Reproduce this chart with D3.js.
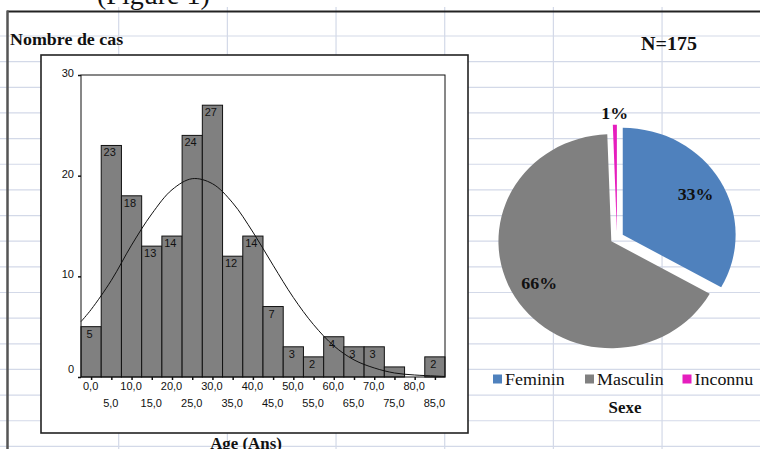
<!DOCTYPE html>
<html><head><meta charset="utf-8">
<script src="https://cdn.jsdelivr.net/npm/d3@7"></script>
<style>body{margin:0;background:#fff;overflow:hidden} svg{display:block}</style>
</head><body>
<svg id="c" width="760" height="449"></svg>
<script>
// ---------- data ----------
const ageMidpoints = [0,5,10,15,20,25,30,35,40,45,50,55,60,65,70,75,80,85];
const ageCounts    = [5,23,18,13,14,24,27,12,14,7,3,2,4,3,3,1,0,2];
const yTickValues  = [0,10,20,30];
const normalX = [-2.5,0,5,10,15,20,25,30,35,40,45,50,55,60,65,70,75,80,85,87.5];
const normalY = [5.5,6.7,9.6,13.1,16.2,18.6,19.7,19.2,17.3,14.4,11.1,7.9,5.2,3.1,1.7,0.9,0.4,0.2,0.1,0.05];
const sexLabels  = ["Feminin","Masculin","Inconnu"];
const sexCounts  = [58,116,1];
const sexPercent = ["33%","66%","1%"];
const sexColors  = ["#4F81BD","#808080","#E61EBE"];

const svg = d3.select("#c");
const serif = "'Liberation Serif','Times New Roman',serif";
const sans = "'Liberation Sans',Arial,sans-serif";
const SX = 1.055;

function stext(g, x, y, str, size, weight, anchor) {
  return g.append("text")
    .attr("transform", `translate(${x},${y}) scale(${SX},1)`)
    .attr("font-family", serif).attr("font-size", size)
    .attr("font-weight", weight).attr("text-anchor", anchor || "start")
    .attr("fill", "#111").text(str);
}

// ---------- spreadsheet background ----------
const grid = svg.append("g").attr("stroke", "#d3d9e8").attr("stroke-width", 1.2);
d3.range(36, 449, 25.65).forEach(yy => grid.append("line").attr("x1", 0).attr("x2", 760).attr("y1", yy).attr("y2", yy));
d3.range(118.7, 760, 108.67).forEach(xx => grid.append("line").attr("x1", xx).attr("x2", xx).attr("y1", 7).attr("y2", 449));

// document text partially visible at top
svg.append("text").attr("x", 97).attr("y", 4).attr("font-family", serif).attr("font-size", 28)
  .attr("fill", "#111").text("(Figure 1)");

// outer frame
svg.append("line").attr("x1", 7).attr("x2", 760).attr("y1", 11.5).attr("y2", 11.5).attr("stroke", "#222").attr("stroke-width", 2.2);
svg.append("line").attr("x1", 7.5).attr("x2", 7.5).attr("y1", 10.5).attr("y2", 449).attr("stroke", "#555").attr("stroke-width", 2.5);

stext(svg, 10, 45, "Nombre de cas", 17, "bold");

// ---------- histogram ----------
svg.append("rect").attr("x", 41).attr("y", 55).attr("width", 427).attr("height", 378)
  .attr("fill", "#fff").attr("stroke", "#222").attr("stroke-width", 1.6);

const x = d3.scaleLinear().domain([-2.5, 87.5]).range([81, 445]);
const y = d3.scaleLinear().domain([0, 30]).range([377, 75]);
const bw = x(5) - x(0);
const bins = ageMidpoints.map((m, i) => ({ mid: m, count: ageCounts[i] }));

const hist = svg.append("g");
hist.selectAll("rect.bar").data(bins).join("rect")
  .attr("class", "bar")
  .attr("x", d => x(d.mid - 2.5))
  .attr("y", d => y(d.count))
  .attr("width", bw)
  .attr("height", d => y(0) - y(d.count))
  .attr("fill", "#808080").attr("stroke", "#111").attr("stroke-width", 1);

hist.selectAll("text.lbl").data(bins.filter(d => d.count >= 2)).join("text")
  .attr("class", "lbl")
  .attr("x", d => x(d.mid - 2.5) + 8.5)
  .attr("y", d => y(d.count) + 11)
  .attr("text-anchor", "middle")
  .attr("font-family", sans).attr("font-size", 11).attr("fill", "#111")
  .text(d => d.count);

// normal curve
const line = d3.line().x(d => x(d[0])).y(d => y(d[1])).curve(d3.curveCatmullRom);
hist.append("path").datum(normalX.map((v, i) => [v, normalY[i]]))
  .attr("d", line).attr("fill", "none").attr("stroke", "#111").attr("stroke-width", 1);

// plot frame
hist.append("rect").attr("x", 81).attr("y", 75).attr("width", 364).attr("height", 302)
  .attr("fill", "none").attr("stroke", "#111").attr("stroke-width", 1);

// y axis
const yAxis = hist.append("g").attr("transform", "translate(81,0)")
  .call(d3.axisLeft(y).tickValues(yTickValues).tickSize(3).tickPadding(4));
yAxis.select(".domain").remove();
yAxis.selectAll("text").attr("font-family", sans).attr("font-size", 11).attr("fill", "#111")
  .attr("dy", d => d === 0 ? "-0.4em" : "0.15em");
yAxis.selectAll("line").attr("stroke", "#111").attr("stroke-width", 1.5);

// x axis
const xAxis = hist.append("g").attr("transform", "translate(0,377)")
  .call(d3.axisBottom(x).tickValues(ageMidpoints).tickSize(3).tickPadding(2)
    .tickFormat(d => d.toFixed(1).replace(".", ",")));
xAxis.select(".domain").remove();
xAxis.selectAll("line").attr("stroke", "#111").attr("stroke-width", 1.5);
xAxis.selectAll("text").attr("font-family", sans).attr("font-size", 11).attr("fill", "#111")
  .attr("x", -1)
  .attr("y", (d, i) => i % 2 === 0 ? 5 : 22);

stext(svg, 246, 448.5, "Age (Ans)", 16, "bold", "middle");

// ---------- pie ----------
stext(svg, 669, 49.5, "N=175", 19, "bold", "middle");

const C = [617, 238], R = 107, explode = 6.3;
const pie = d3.pie().sort(null).startAngle(0).endAngle(2 * Math.PI)(sexCounts);
const arc = d3.arc().innerRadius(0).outerRadius(R);
const pg = svg.append("g").attr("transform", `translate(${C[0]},${C[1]})`);
const slices = pg.append("g").attr("transform", `scale(${SX},1)`);
slices.selectAll("path").data(pie).join("path")
  .attr("d", arc)
  .attr("fill", (d, i) => sexColors[i])
  .attr("transform", d => {
    const a = (d.startAngle + d.endAngle) / 2;
    return `translate(${explode * Math.sin(a)},${-explode * Math.cos(a)})`;
  });

pie.forEach((d, i) => {
  const a = (d.startAngle + d.endAngle) / 2;
  const small = (d.endAngle - d.startAngle) < 0.2;
  const r = (small ? 119 : 80) + explode;
  const lx = C[0] + r * Math.sin(a) * SX;
  const ly = C[1] - r * Math.cos(a);
  stext(svg, lx, ly + 6, sexPercent[i], 17, "bold", "middle");
});

// legend
const legX = [493, 585, 682.5];
sexLabels.forEach((s, i) => {
  svg.append("rect").attr("x", legX[i]).attr("y", 374.5).attr("width", 9).attr("height", 9).attr("fill", sexColors[i]);
  stext(svg, legX[i] + 12, 385, s, 17, "normal");
});
stext(svg, 625, 413, "Sexe", 16, "bold", "middle");
</script>
</body></html>
